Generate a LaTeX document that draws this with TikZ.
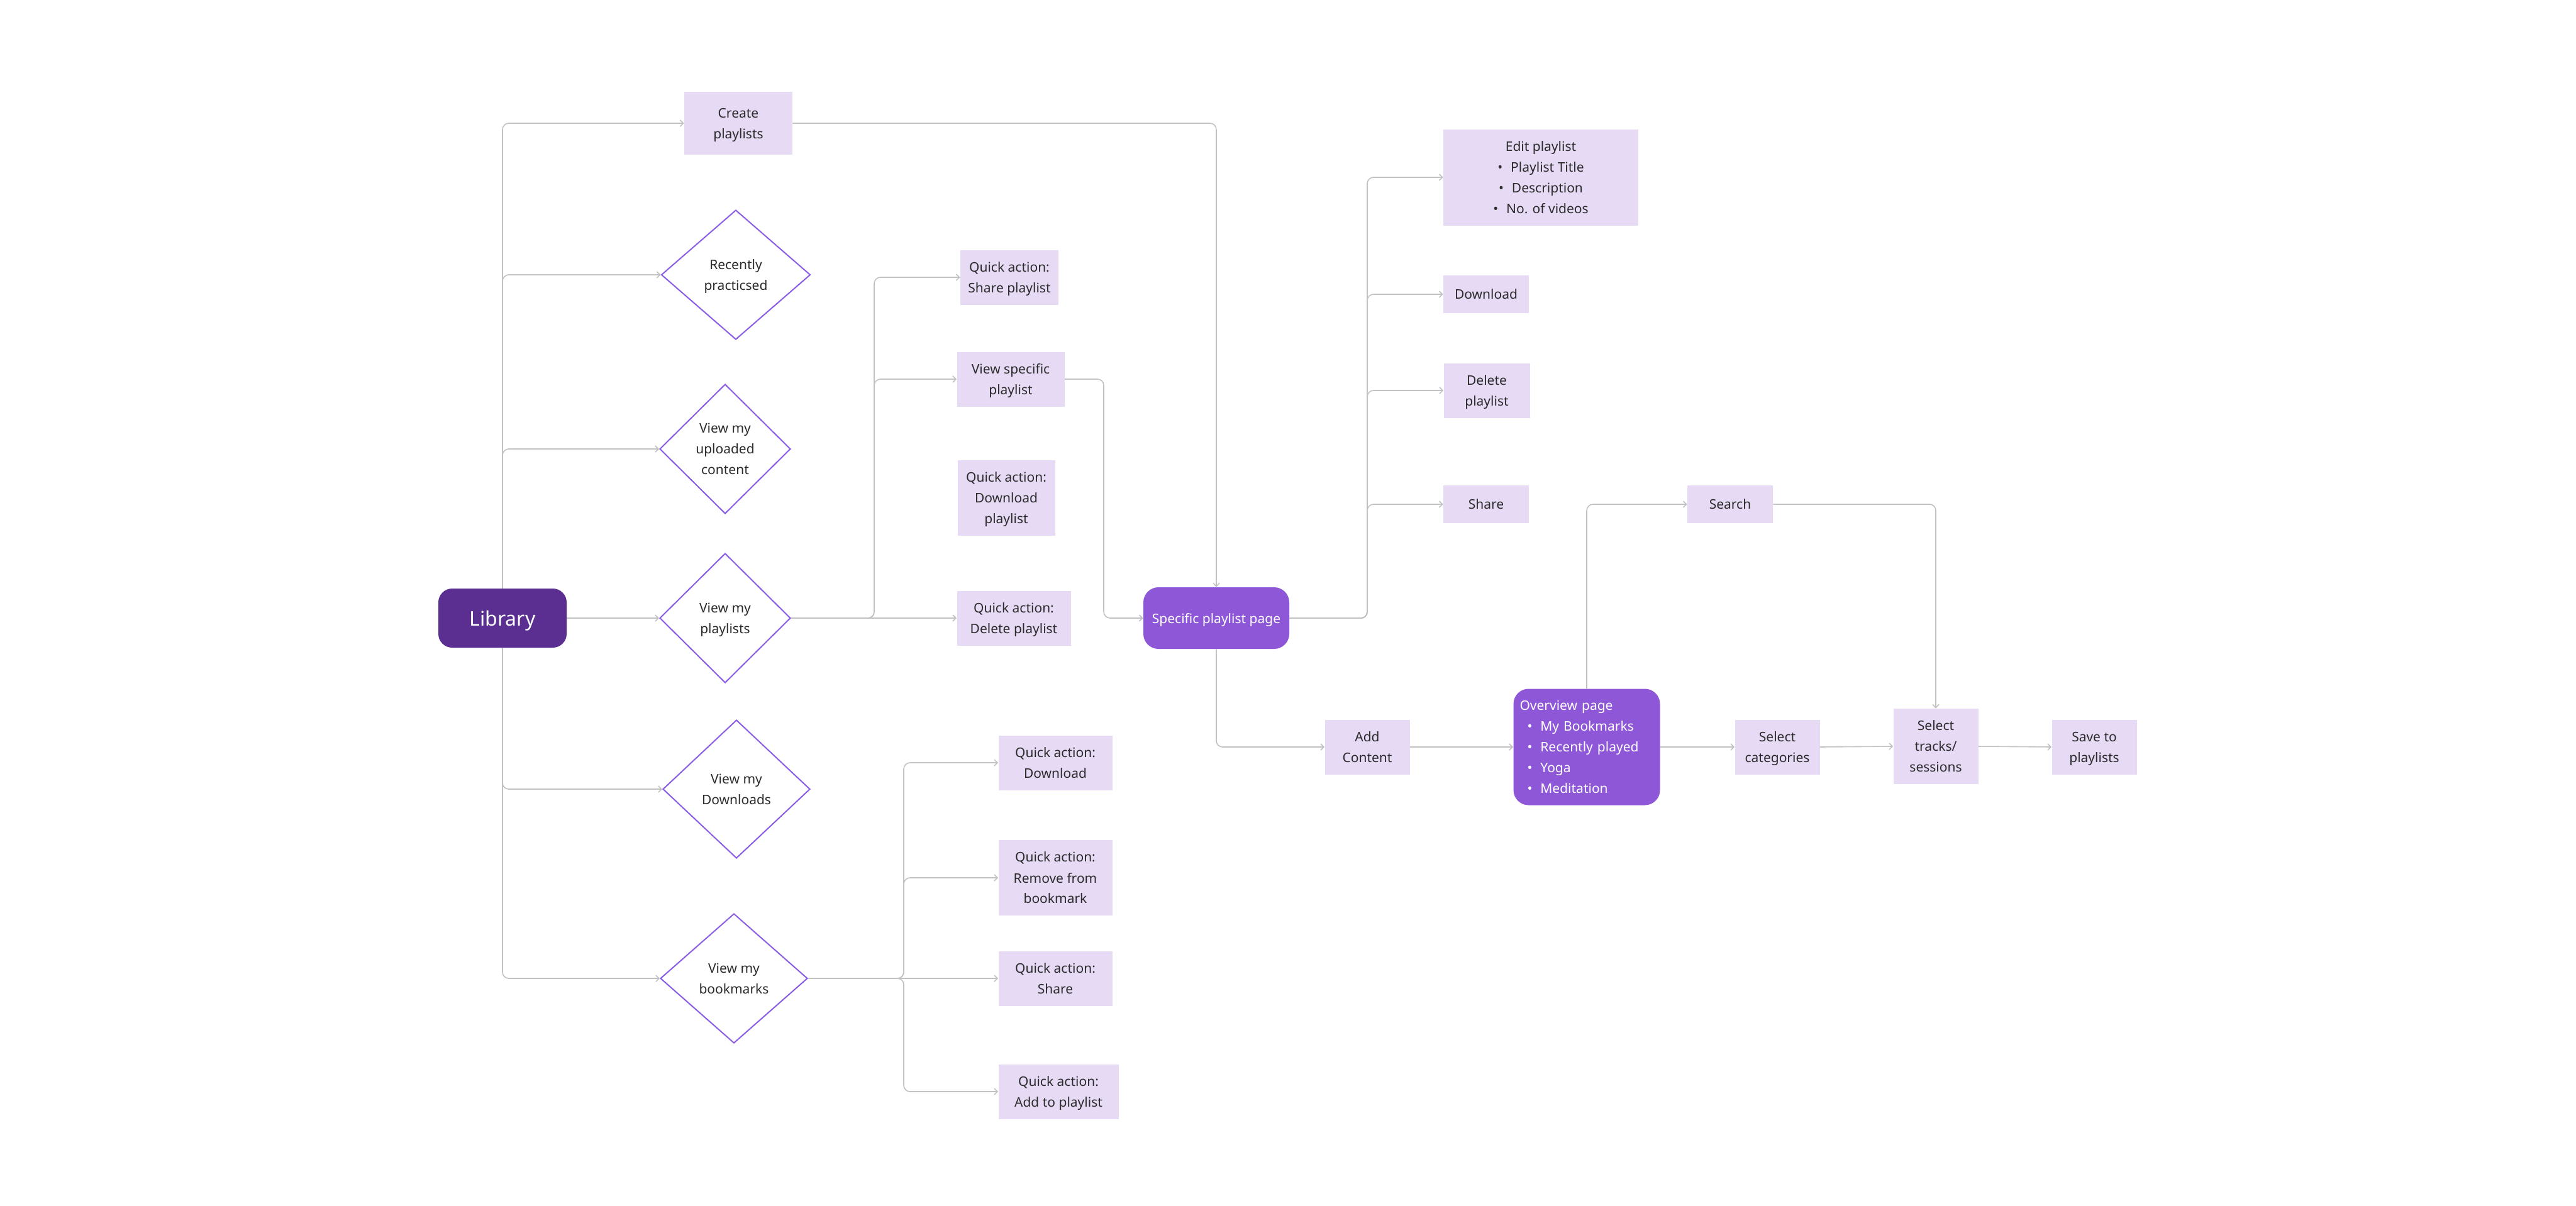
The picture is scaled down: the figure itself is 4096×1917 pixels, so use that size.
\documentclass[tikz,border=0pt]{standalone}
\usepackage{fontspec}
\setmainfont{Noto Sans}
\usetikzlibrary{shapes.geometric,arrows.meta}
\definecolor{boxc}{HTML}{E6DAF5}
\definecolor{libc}{HTML}{5B2E91}
\definecolor{pagec}{HTML}{8E57D8}
\definecolor{diac}{HTML}{8A5CE6}
\definecolor{linec}{HTML}{C2C2C2}
\definecolor{txt}{HTML}{2B2B2B}
\newcommand{\fs}{\fontsize{10.5pt}{16.5pt}\selectfont}
\newcommand{\bul}{\textbullet\hspace{6.5pt}}
\begin{document}
\begin{tikzpicture}[x=0.5pt,y=-0.5pt,
  box/.style={fill=boxc, inner sep=0pt, align=center, font=\fs, text=txt, text depth=0pt},
  dia/.style={diamond, draw=diac, line width=1pt, fill=white, inner sep=0pt, align=center, font=\fs, text=txt, text depth=0pt},
  pagebox/.style={fill=pagec, rounded corners=12pt, inner sep=0pt, align=center, font=\fs, text=white, text depth=0pt},
  ovbox/.style={fill=pagec, rounded corners=12pt, inner sep=0pt, font=\fs, text=white},
  conn/.style={draw=linec, line width=0.8pt, rounded corners=5pt, -{Straight Barb[length=2.5pt,width=5pt]}}]
\fill[white] (0,0) rectangle (4096,1917);
\useasboundingbox (0,0) rectangle (4096,1917);

% main node
\node[fill=libc, rounded corners=11pt, minimum width=102pt, minimum height=47pt, inner sep=0pt, text=white, text depth=0pt, font=\fontsize{16pt}{19pt}\selectfont] (lib) at (799,983) {Library};

% first column
\node[box, minimum width=86pt, minimum height=50pt] (create) at (1174,196) {Create\\playlists};
\node[dia, minimum width=118.5pt, minimum height=103pt] (recent) at (1170,437) {Recently\\practicsed};
\node[dia, minimum width=104pt, minimum height=103pt] (upl) at (1153,714) {View my\\uploaded\\content};
\node[dia, minimum width=104pt, minimum height=103pt] (pl) at (1153,983) {View my\\playlists};
\node[dia, minimum width=117pt, minimum height=110pt] (dl) at (1171,1255) {View my\\Downloads};
\node[dia, minimum width=117pt, minimum height=103pt] (bm) at (1167,1556) {View my\\bookmarks};

% playlist quick actions
\node[box, minimum width=78pt, minimum height=43.5pt] (qshare) at (1605,441) {Quick action:\\Share playlist};
\node[box, minimum width=85.5pt, minimum height=43.5pt] (vsp) at (1607,603) {View specific\\playlist};
\node[box, minimum width=77.5pt, minimum height=60pt] (qdlp) at (1600,792) {Quick action:\\Download\\playlist};
\node[box, minimum width=90.5pt, minimum height=43.5pt] (qdel) at (1612,983) {Quick action:\\Delete playlist};

% bookmark quick actions
\node[box, minimum width=90.5pt, minimum height=43.5pt] (qa1) at (1678,1213) {Quick action:\\Download};
\node[box, minimum width=90.5pt, minimum height=60pt] (qa2) at (1678,1396) {Quick action:\\Remove from\\bookmark};
\node[box, minimum width=90.5pt, minimum height=43.5pt] (qa3) at (1678,1556) {Quick action:\\Share};
\node[box, minimum width=95.5pt, minimum height=43.5pt] (qa4) at (1683,1736) {Quick action:\\Add to playlist};

% specific playlist page
\node[pagebox, minimum width=116pt, minimum height=49pt] (spp) at (1934,983) {Specific playlist page};
\node[box, minimum width=155pt, minimum height=76.5pt] (edit) at (2450,282) {Edit playlist\\\bul Playlist Title\\\bul Description\\\bul No. of videos};
\node[box, minimum width=68pt, minimum height=30pt] (dlb) at (2363,468) {Download};
\node[box, minimum width=68.5pt, minimum height=43.5pt] (delb) at (2364,621) {Delete\\playlist};
\node[box, minimum width=68pt, minimum height=30pt] (shareb) at (2363,802) {Share};

% add content flow
\node[box, minimum width=67.5pt, minimum height=43.5pt] (add) at (2174,1188) {Add\\Content};
\node[ovbox, minimum width=116.5pt, minimum height=92.5pt, text width=106.5pt, align=left] (ov) at (2523,1188) {Overview page\\\hspace*{6pt}\bul My Bookmarks\\\hspace*{6pt}\bul Recently played\\\hspace*{6pt}\bul Yoga\\\hspace*{6pt}\bul Meditation};
\node[box, minimum width=68pt, minimum height=30pt] (search) at (2751,802) {Search};
\node[box, minimum width=67.5pt, minimum height=43.5pt] (cats) at (2826,1188) {Select\\categories};
\node[box, minimum width=67.5pt, minimum height=60pt] (tracks) at (3078,1187) {Select\\tracks/\\sessions};
\node[box, minimum width=67.5pt, minimum height=43.5pt] (save) at (3330,1188) {Save to\\playlists};

% branch coordinates
\coordinate (plb) at (1390,983);
\coordinate (vsb) at (1755,603);
\coordinate (spb) at (2174,983);
\coordinate (bmb) at (1437,1556);

% trunk from Library
\draw[conn] (lib.north) |- (create.west);
\draw[conn] (lib.north) |- (recent.west);
\draw[conn] (lib.north) |- (upl.west);
\draw[conn] (lib.east) -- (pl.west);
\draw[conn] (lib.south) |- (dl.west);
\draw[conn] (lib.south) |- (bm.west);

% create playlists to page
\draw[conn] (create.east) -| (spp.north);

% my playlists branch
\draw[conn] (pl.east) -- (plb) |- (qshare.west);
\draw[conn] (pl.east) -- (plb) |- (vsp.west);
\draw[conn] (pl.east) -- (qdel.west);
\draw[conn] (vsp.east) -- (vsb) |- (spp.west);

% bookmarks branch
\draw[conn] (bm.east) -- (bmb) |- (qa1.west);
\draw[conn] (bm.east) -- (bmb) |- (qa2.west);
\draw[conn] (bm.east) -- (qa3.west);
\draw[conn] (bm.east) -- (bmb) |- (qa4.west);

% specific playlist page branch
\draw[conn] (spp.east) -- (spb) |- (edit.west);
\draw[conn] (spp.east) -- (spb) |- (dlb.west);
\draw[conn] (spp.east) -- (spb) |- (delb.west);
\draw[conn] (spp.east) -- (spb) |- (shareb.west);

% add content flow
\draw[conn] (spp.south) |- (add.west);
\draw[conn] (add.east) -- (ov.west);
\draw[conn] (ov.north) |- (search.west);
\draw[conn] (search.east) -| (tracks.north);
\draw[conn] (ov.east) -- (cats.west);
\draw[conn] (cats.east) -- (tracks.west);
\draw[conn] (tracks.east) -- (save.west);
\end{tikzpicture}
\end{document}
